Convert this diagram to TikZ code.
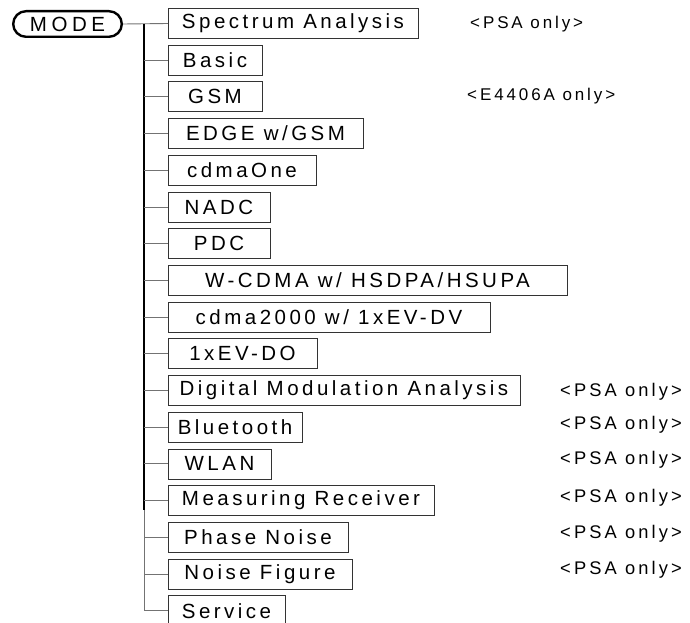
\documentclass[tikz,border=0pt]{standalone}
\usepackage{fontspec}
\setmainfont{Liberation Sans}
\newfontfamily\menufont[LetterSpace=17]{Liberation Sans}
\newfontfamily\notefont[LetterSpace=17]{Liberation Sans}
\newfontfamily\modefont[LetterSpace=22]{Liberation Sans}
\usetikzlibrary{positioning,calc}
\tikzset{
  modebox/.style={draw,rounded corners=12.8pt,line width=2.4pt,minimum width=108.6pt,minimum height=25.6pt,inner sep=0pt,font=\modefont\fontsize{20.5}{20.5}\selectfont},
  menubox/.style={draw=black!80,line width=.8pt,outer sep=0pt,minimum height=30pt,inner sep=0pt,font=\menufont\fontsize{20.5}{20.5}\selectfont},
  menuline/.style={draw=black!55,line width=.9pt},
  trunkline/.style={line width=2.4pt},
  notelabel/.style={anchor=west,inner sep=0pt,font=\notefont\fontsize{17}{17}\selectfont},
  widenote/.style={notelabel,font=\notefont\fontsize{18.3}{18.3}\selectfont}
}

\begin{document}
\begin{tikzpicture}[x=1pt,y=-1pt]
  \useasboundingbox (0,0) rectangle (690,623);
  \node[modebox] (mode) at (67.5,24) {MODE};
  \node[menubox,minimum width=250pt,anchor=west] (b1) at (168,23.5) {Spectrum Analysis};
  \node[menubox,minimum width=94pt,below=6.7pt of b1.south west,anchor=north west] (b2) {Basic};
  \node[menubox,minimum width=94pt,below=6.7pt of b2.south west,anchor=north west] (b3) {GSM};
  \node[menubox,minimum width=195pt,below=6.7pt of b3.south west,anchor=north west] (b4) {EDGE w/GSM};
  \node[menubox,minimum width=148pt,below=6.7pt of b4.south west,anchor=north west] (b5) {cdmaOne};
  \node[menubox,minimum width=102pt,below=6.7pt of b5.south west,anchor=north west] (b6) {NADC};
  \node[menubox,minimum width=102pt,below=6.7pt of b6.south west,anchor=north west] (b7) {PDC};
  \node[menubox,minimum width=399pt,below=6.7pt of b7.south west,anchor=north west] (b8) {W-CDMA w/ HSDPA/HSUPA};
  \node[menubox,minimum width=322pt,below=6.7pt of b8.south west,anchor=north west] (b9) {cdma2000 w/ 1xEV-DV};
  \node[menubox,minimum width=149pt,below=6.7pt of b9.south west,anchor=north west] (b10) {1xEV-DO};
  \node[menubox,minimum width=352pt,below=6.7pt of b10.south west,anchor=north west] (b11) {Digital Modulation Analysis};
  \node[menubox,minimum width=134pt,below=6.7pt of b11.south west,anchor=north west] (b12) {Bluetooth};
  \node[menubox,minimum width=103pt,below=6.7pt of b12.south west,anchor=north west] (b13) {WLAN};
  \node[menubox,minimum width=266pt,below=6.7pt of b13.south west,anchor=north west] (b14) {Measuring Receiver};
  \node[menubox,minimum width=180pt,below=6.7pt of b14.south west,anchor=north west] (b15) {Phase Noise};
  \node[menubox,minimum width=184pt,below=6.7pt of b15.south west,anchor=north west] (b16) {Noise Figure};
  \node[menubox,minimum width=117pt,below=6.7pt of b16.south west,anchor=north west] (b17) {Service};
  % notes
  \node[notelabel] (n1) at (470,24) {<PSA only>};
  \node[notelabel] (n3) at (467,96) {<E4406A only>};
  \node[widenote] (n11) at (560,392) {<PSA only>};
  \node[widenote] (n12) at (560,425) {<PSA only>};
  \node[widenote] (n13) at (560,460) {<PSA only>};
  \node[widenote] (n14) at (560,498) {<PSA only>};
  \node[widenote] (n15) at (560,534) {<PSA only>};
  \node[widenote] (n16) at (560,570) {<PSA only>};
  % trunk
  \coordinate (trunktop) at (144,24);
  \coordinate (trunkbend) at (trunktop |- b17.west);
  \draw[menuline] (mode.east) -- (b1.west);
  \draw[menuline] (trunktop) -- (trunkbend) -- (b17.west);
  \draw[trunkline] (trunktop) -- (144,510);
  \draw[menuline] (trunktop |- b2.west) -- (b2.west);
  \draw[menuline] (trunktop |- b3.west) -- (b3.west);
  \draw[menuline] (trunktop |- b4.west) -- (b4.west);
  \draw[menuline] (trunktop |- b5.west) -- (b5.west);
  \draw[menuline] (trunktop |- b6.west) -- (b6.west);
  \draw[menuline] (trunktop |- b7.west) -- (b7.west);
  \draw[menuline] (trunktop |- b8.west) -- (b8.west);
  \draw[menuline] (trunktop |- b9.west) -- (b9.west);
  \draw[menuline] (trunktop |- b10.west) -- (b10.west);
  \draw[menuline] (trunktop |- b11.west) -- (b11.west);
  \draw[menuline] (trunktop |- b12.west) -- (b12.west);
  \draw[menuline] (trunktop |- b13.west) -- (b13.west);
  \draw[menuline] (trunktop |- b14.west) -- (b14.west);
  \draw[menuline] (trunktop |- b15.west) -- (b15.west);
  \draw[menuline] (trunktop |- b16.west) -- (b16.west);
\end{tikzpicture}
\end{document}
